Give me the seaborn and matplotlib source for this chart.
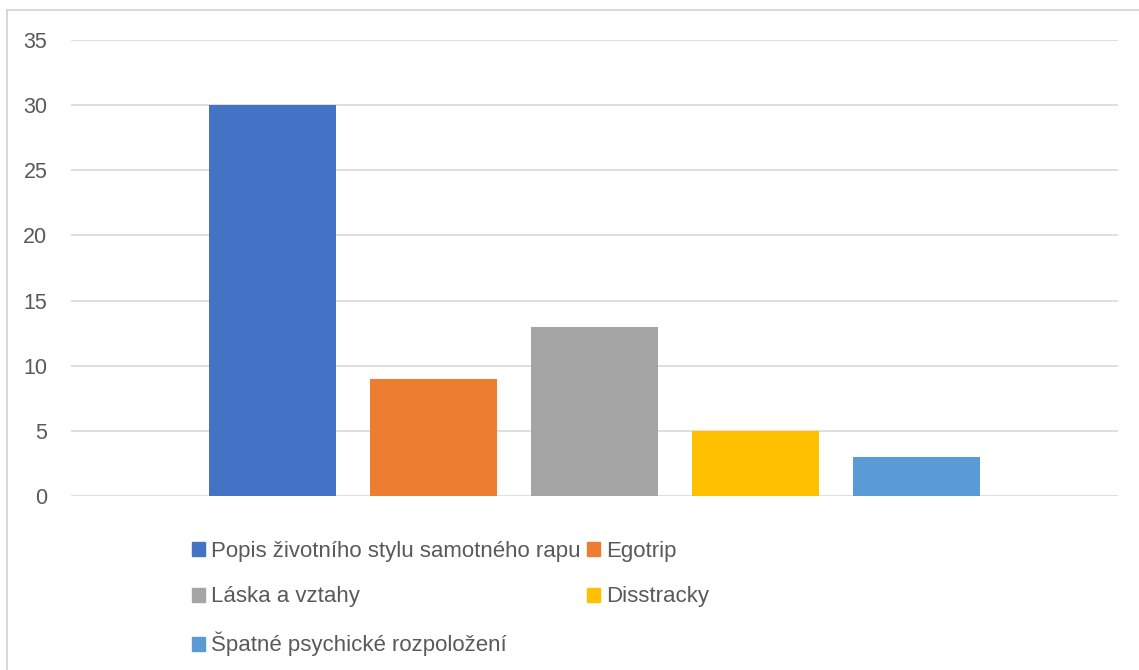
import seaborn as sns
import pandas as pd
import matplotlib.pyplot as plt
from matplotlib.patches import Rectangle

# data
topics = ['Popis životního stylu samotného rapu', 'Egotrip', 'Láska a vztahy',
          'Disstracky', 'Špatné psychické rozpoložení']
counts = [30, 9, 13, 5, 3]
colors = ['#4472C4', '#ED7D31', '#A5A5A5', '#FFC000', '#5B9BD5']
yticks = [0, 5, 10, 15, 20, 25, 30, 35]

sns.set_theme(style='white')
plt.rcParams['font.family'] = ['Liberation Sans', 'DejaVu Sans']

data = pd.DataFrame({'cat': [''] * len(topics), 'topic': topics, 'count': counts})

fig = plt.figure(figsize=(11.39, 6.70), dpi=100)
ax = fig.add_axes([71 / 1139, 1 - 496 / 670, (1118 - 71) / 1139, (496 - 40) / 670])

sns.barplot(data=data, x='cat', y='count', hue='topic', hue_order=topics,
            palette=colors, width=0.769, gap=0.21, saturation=1,
            linewidth=0, legend=False, ax=ax, zorder=3)

ax.set_xlim(-0.5, 0.5)
ax.set_ylim(0, 35)
ax.set_yticks(yticks)
ax.set_xticks([])
ax.set_xlabel('')
ax.set_ylabel('')
ax.grid(axis='y', color='#d9d9d9', lw=1.2, zorder=0)
for s in ax.spines.values():
    s.set_visible(False)
ax.tick_params(axis='y', length=0, pad=17, labelsize=15.5, labelcolor='#595959')

# chart border (left and top visible)
fig.patches.append(Rectangle((7 / 1139, -0.1), 1.2, 1 - 10 / 670 + 0.1,
                             transform=fig.transFigure, fill=False,
                             edgecolor='#d9d9d9', lw=1.5))

# legend: row-wise order like excel
handles = [Rectangle((0, 0), 1, 1, color=c) for c in colors]
order = [0, 2, 4, 1, 3]
leg = fig.legend([handles[i] for i in order], [topics[i] for i in order],
                 ncol=2, loc='upper left', bbox_to_anchor=(192 / 1139, 1 - 541 / 670),
                 frameon=False, fontsize=16, handlelength=0.6, handleheight=0.6,
                 handletextpad=0.25, labelspacing=1.1, columnspacing=0.3,
                 borderpad=0, borderaxespad=0)
for t in leg.get_texts():
    t.set_color('#595959')

fig.savefig('out.png', dpi=100)
